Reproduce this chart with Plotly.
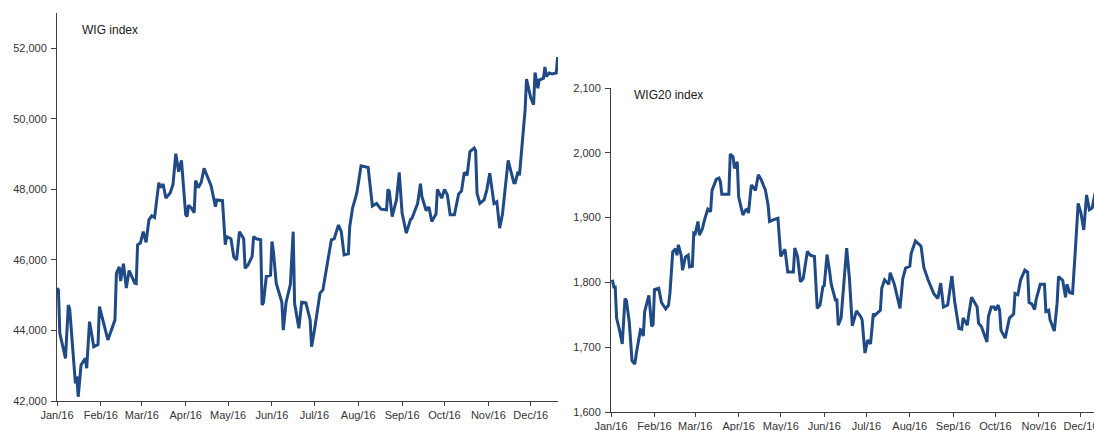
import plotly.graph_objects as go

# ---------------- data ----------------
wig_dates = [
    "2016-01-01", "2016-01-02", "2016-01-03", "2016-01-07", "2016-01-09", "2016-01-10", "2016-01-14", "2016-01-15", "2016-01-16", "2016-01-18",
    "2016-01-21", "2016-01-22", "2016-01-24", "2016-01-27", "2016-01-30", "2016-01-31", "2016-02-06", "2016-02-11", "2016-02-12", "2016-02-14",
    "2016-02-15", "2016-02-17", "2016-02-19", "2016-02-21", "2016-02-25", "2016-02-26", "2016-02-27", "2016-02-29", "2016-03-02", "2016-03-04",
    "2016-03-06", "2016-03-08", "2016-03-10", "2016-03-13", "2016-03-14", "2016-03-16", "2016-03-18", "2016-03-21", "2016-03-23", "2016-03-25",
    "2016-03-27", "2016-03-29", "2016-04-01", "2016-04-02", "2016-04-03", "2016-04-05", "2016-04-07", "2016-04-08", "2016-04-10", "2016-04-12",
    "2016-04-14", "2016-04-17", "2016-04-19", "2016-04-22", "2016-04-23", "2016-04-27", "2016-04-29", "2016-04-30", "2016-05-03", "2016-05-05",
    "2016-05-07", "2016-05-09", "2016-05-12", "2016-05-13", "2016-05-15", "2016-05-18", "2016-05-19", "2016-05-21", "2016-05-24", "2016-05-25",
    "2016-05-26", "2016-05-28", "2016-05-31", "2016-06-01", "2016-06-02", "2016-06-04", "2016-06-05", "2016-06-08", "2016-06-09", "2016-06-11",
    "2016-06-14", "2016-06-16", "2016-06-17", "2016-06-20", "2016-06-22", "2016-06-25", "2016-06-28", "2016-06-29", "2016-07-01", "2016-07-05",
    "2016-07-07", "2016-07-10", "2016-07-13", "2016-07-15", "2016-07-18", "2016-07-20", "2016-07-22", "2016-07-25", "2016-07-26", "2016-07-28",
    "2016-07-31", "2016-08-01", "2016-08-03", "2016-08-08", "2016-08-10", "2016-08-11", "2016-08-14", "2016-08-17", "2016-08-21", "2016-08-22",
    "2016-08-23", "2016-08-25", "2016-08-28", "2016-08-30", "2016-09-01", "2016-09-04", "2016-09-07", "2016-09-08", "2016-09-12", "2016-09-14",
    "2016-09-15", "2016-09-18", "2016-09-20", "2016-09-22", "2016-09-25", "2016-09-26", "2016-09-29", "2016-10-01", "2016-10-03", "2016-10-05",
    "2016-10-08", "2016-10-11", "2016-10-13", "2016-10-15", "2016-10-17", "2016-10-19", "2016-10-22", "2016-10-23", "2016-10-24", "2016-10-26",
    "2016-10-29", "2016-10-31", "2016-11-02", "2016-11-05", "2016-11-07", "2016-11-09", "2016-11-11", "2016-11-15", "2016-11-19", "2016-11-20",
    "2016-11-22", "2016-11-23", "2016-11-27", "2016-11-28", "2016-12-01", "2016-12-03", "2016-12-04", "2016-12-06", "2016-12-07", "2016-12-10",
    "2016-12-11", "2016-12-12", "2016-12-14", "2016-12-16", "2016-12-19", "2016-12-20",
]
wig_values = [
    45200, 45150, 43920, 43210, 44720, 44600, 42500, 42700, 42120, 43020,
    43210, 42930, 44250, 43540, 43600, 44675, 43730, 44300, 45620, 45800,
    45400, 45890, 45200, 45700, 45340, 45330, 46430, 46480, 46800, 46500,
    47135, 47250, 47200, 48190, 48050, 48150, 47750, 47900, 48130, 49010,
    48500, 48820, 47280, 47230, 47550, 47470, 47340, 48250, 48050, 48200,
    48600, 48300, 48100, 47510, 47700, 47680, 46430, 46660, 46600, 46090,
    46000, 46800, 46600, 45760, 45850, 46100, 46660, 46600, 46570, 44720,
    44800, 45530, 45570, 46520, 46250, 45340, 45200, 44800, 44010, 44800,
    45300, 46800, 44770, 44060, 44800, 44780, 44300, 43540, 44000, 45060,
    45150, 45900, 46570, 46600, 46990, 46800, 46140, 46170, 46950, 47470,
    47900, 48150, 48670, 48620, 48000, 47530, 47600, 47440, 47420, 48000,
    47940, 47230, 47700, 48480, 47330, 46760, 47150, 47180, 47600, 48160,
    47800, 47400, 47500, 47090, 47300, 48000, 47750, 48000, 47850, 47280,
    47280, 47870, 47950, 48480, 48400, 49070, 49170, 49100, 47890, 47600,
    47700, 48000, 48460, 47600, 47650, 46900, 47300, 48820, 48190, 48190,
    48500, 48400, 50260, 51130, 50590, 50400, 51310, 50870, 51100, 51150,
    51470, 51200, 51300, 51270, 51300, 51750,
]

wig20_dates = [
    "2016-01-02", "2016-01-03", "2016-01-04", "2016-01-05", "2016-01-07", "2016-01-09", "2016-01-11", "2016-01-12", "2016-01-14", "2016-01-16",
    "2016-01-18", "2016-01-19", "2016-01-22", "2016-01-23", "2016-01-24", "2016-01-25", "2016-01-28", "2016-01-30", "2016-01-31", "2016-02-01",
    "2016-02-04", "2016-02-06", "2016-02-09", "2016-02-11", "2016-02-12", "2016-02-14", "2016-02-16", "2016-02-17", "2016-02-18", "2016-02-20",
    "2016-02-21", "2016-02-23", "2016-02-25", "2016-02-26", "2016-02-28", "2016-02-29", "2016-03-01", "2016-03-03", "2016-03-04", "2016-03-06",
    "2016-03-08", "2016-03-10", "2016-03-12", "2016-03-13", "2016-03-16", "2016-03-18", "2016-03-19", "2016-03-20", "2016-03-22", "2016-03-25",
    "2016-03-26", "2016-03-28", "2016-03-29", "2016-03-31", "2016-04-01", "2016-04-04", "2016-04-06", "2016-04-07", "2016-04-08", "2016-04-10",
    "2016-04-11", "2016-04-13", "2016-04-15", "2016-04-17", "2016-04-19", "2016-04-20", "2016-04-22", "2016-04-23", "2016-04-26", "2016-04-29",
    "2016-05-01", "2016-05-04", "2016-05-06", "2016-05-10", "2016-05-11", "2016-05-13", "2016-05-15", "2016-05-17", "2016-05-20", "2016-05-22",
    "2016-05-25", "2016-05-27", "2016-05-29", "2016-05-31", "2016-06-01", "2016-06-03", "2016-06-05", "2016-06-06", "2016-06-09", "2016-06-10",
    "2016-06-11", "2016-06-13", "2016-06-15", "2016-06-17", "2016-06-19", "2016-06-21", "2016-06-24", "2016-06-27", "2016-06-28", "2016-06-29",
    "2016-06-30", "2016-07-02", "2016-07-04", "2016-07-06", "2016-07-07", "2016-07-11", "2016-07-12", "2016-07-14", "2016-07-17", "2016-07-18",
    "2016-07-21", "2016-07-25", "2016-07-27", "2016-07-29", "2016-08-01", "2016-08-02", "2016-08-05", "2016-08-09", "2016-08-11", "2016-08-14",
    "2016-08-18", "2016-08-21", "2016-08-23", "2016-08-25", "2016-08-28", "2016-08-31", "2016-09-02", "2016-09-05", "2016-09-07", "2016-09-08",
    "2016-09-11", "2016-09-12", "2016-09-14", "2016-09-18", "2016-09-19", "2016-09-21", "2016-09-25", "2016-09-26", "2016-09-28", "2016-09-30",
    "2016-10-01", "2016-10-03", "2016-10-04", "2016-10-05", "2016-10-08", "2016-10-11", "2016-10-14", "2016-10-15", "2016-10-17", "2016-10-19",
    "2016-10-22", "2016-10-24", "2016-10-25", "2016-10-27", "2016-10-29", "2016-10-30", "2016-11-02", "2016-11-05", "2016-11-06", "2016-11-08",
    "2016-11-09", "2016-11-12", "2016-11-14", "2016-11-15", "2016-11-18", "2016-11-20", "2016-11-21", "2016-11-23", "2016-11-25", "2016-11-27",
    "2016-11-28", "2016-11-29", "2016-12-01", "2016-12-03", "2016-12-05", "2016-12-07", "2016-12-09", "2016-12-11", "2016-12-13",
]
wig20_values = [
    1804, 1793, 1793, 1745, 1727, 1705, 1775, 1772, 1739, 1679,
    1674, 1690, 1727, 1726, 1717, 1755, 1780, 1732, 1735, 1789,
    1791, 1769, 1759, 1765, 1783, 1847, 1852, 1842, 1858, 1842,
    1819, 1839, 1842, 1824, 1825, 1876, 1875, 1894, 1873, 1882,
    1899, 1913, 1909, 1942, 1959, 1961, 1955, 1936, 1936, 1936,
    1998, 1994, 1976, 1986, 1932, 1904, 1912, 1913, 1907, 1950,
    1948, 1942, 1966, 1959, 1948, 1943, 1919, 1894, 1897, 1899,
    1840, 1851, 1816, 1816, 1853, 1840, 1801, 1806, 1848, 1842,
    1840, 1760, 1765, 1793, 1795, 1843, 1814, 1797, 1773, 1773,
    1734, 1745, 1799, 1853, 1805, 1733, 1756, 1747, 1742, 1721,
    1691, 1711, 1705, 1752, 1749, 1757, 1791, 1804, 1797, 1815,
    1797, 1760, 1806, 1822, 1825, 1845, 1864, 1856, 1823, 1804,
    1783, 1775, 1799, 1762, 1765, 1810, 1770, 1729, 1728, 1745,
    1734, 1750, 1777, 1762, 1737, 1732, 1708, 1747, 1762, 1762,
    1757, 1765, 1757, 1726, 1714, 1745, 1751, 1783, 1781, 1804,
    1819, 1816, 1769, 1767, 1758, 1773, 1797, 1797, 1755, 1757,
    1742, 1725, 1768, 1809, 1803, 1777, 1797, 1784, 1783, 1850,
    1881, 1922, 1907, 1881, 1935, 1912, 1915, 1937, 1945,
]

panel_titles = ["WIG index", "WIG20 index"]
wig_y_ticks = [42000, 44000, 46000, 48000, 50000, 52000]
wig20_y_ticks = [1600, 1700, 1800, 1900, 2000, 2100]

# ---------------- styling ----------------
W, H = 1094, 431
LINE = "#1f4a85"
AXIS = "#404040"
TXT = "#333333"
FONT = "Liberation Sans, Arial, sans-serif"

def px_x(p):
    return p / W

def px_y(p):
    return (H - p) / H

fig = go.Figure()
fig.add_trace(go.Scatter(x=wig_dates, y=wig_values, mode="lines",
                         line=dict(color=LINE, width=3), xaxis="x", yaxis="y",
                         showlegend=False, hoverinfo="x+y"))
fig.add_trace(go.Scatter(x=wig20_dates, y=wig20_values, mode="lines",
                         line=dict(color=LINE, width=3), xaxis="x2", yaxis="y2",
                         showlegend=False, hoverinfo="x+y"))

common_x = dict(type="date", tickformat="%b/%y", dtick="M1", tick0="2016-01-01",
                showgrid=False, zeroline=False, showline=True, linecolor=AXIS, linewidth=1,
                ticks="outside", ticklen=4, tickcolor=AXIS, tickwidth=1,
                tickfont=dict(family=FONT, size=11, color=TXT),
                ticklabeloverflow="allow", automargin=False, fixedrange=True)
common_y = dict(showgrid=False, zeroline=False, showline=True, linecolor=AXIS, linewidth=1,
                ticks="outside", ticklen=5, tickcolor=AXIS, tickwidth=1,
                ticklabelstandoff=2,
                tickformat=",d", tickfont=dict(family=FONT, size=11, color=TXT),
                ticklabeloverflow="allow", automargin=False, fixedrange=True)

fig.update_layout(
    template="none",
    width=W, height=H, autosize=False,
    margin=dict(l=0, r=0, t=0, b=0, pad=0),
    paper_bgcolor="white", plot_bgcolor="white",
    xaxis=dict(common_x, domain=[px_x(57), px_x(558)], anchor="y",
               range=["2016-01-01", "2016-12-20 06:00"]),
    yaxis=dict(common_y, domain=[px_y(401), px_y(13)], anchor="x",
               range=[42000, 53000], tickvals=wig_y_ticks),
    xaxis2=dict(common_x, domain=[px_x(611), 1.0], anchor="y2",
                range=["2016-01-01", "2016-12-10 07:00"]),
    yaxis2=dict(common_y, domain=[px_y(412), px_y(88)], anchor="x2",
                range=[1600, 2100], tickvals=wig20_y_ticks),
    annotations=[
        dict(text=panel_titles[0], x=px_x(80), y=px_y(30), xref="paper", yref="paper",
             xanchor="left", yanchor="middle", showarrow=False,
             font=dict(family=FONT, size=12, color="#1a1a1a")),
        dict(text=panel_titles[1], x=px_x(632), y=px_y(95), xref="paper", yref="paper",
             xanchor="left", yanchor="middle", showarrow=False,
             font=dict(family=FONT, size=12, color="#1a1a1a")),
    ],
)

fig.write_html(
    "out.html",
    config={"displayModeBar": False},
    post_script="document.body.style.margin='0';document.body.style.overflow='hidden';",
)
